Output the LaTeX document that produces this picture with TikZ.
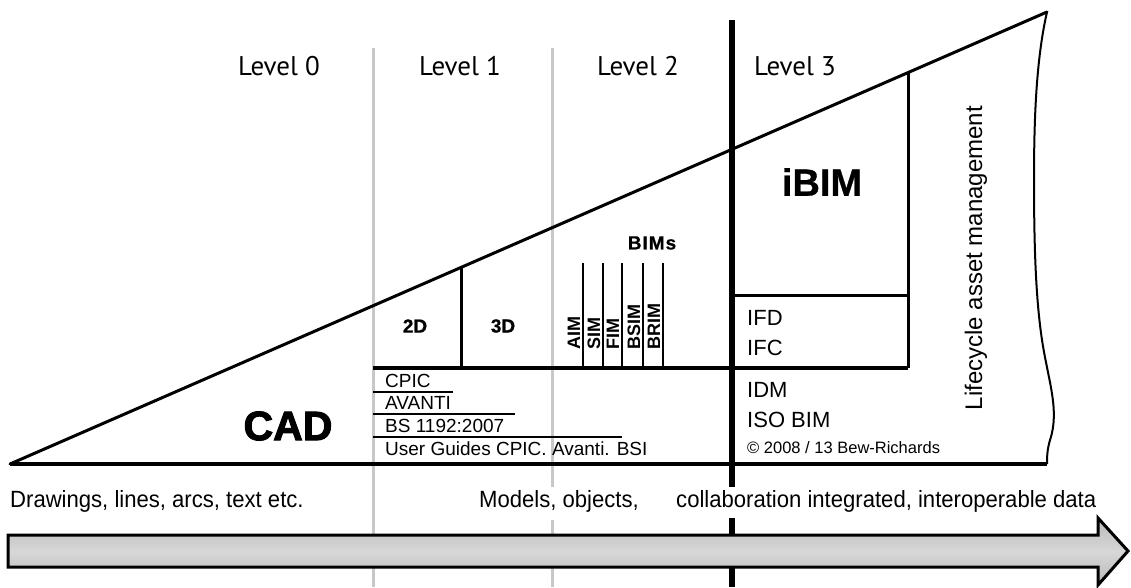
\documentclass[tikz,border=0pt]{standalone}
\usepackage{fontspec}
\setmainfont{Liberation Sans}
\newfontfamily\lvlfont{PT Sans}
\newfontfamily\heavyfont{Liberation Sans Bold}[FakeBold=2.5]
\newfontfamily\semiheavy{Liberation Sans Bold}[FakeBold=0.8]
\definecolor{lgray}{RGB}{200,200,200}
\definecolor{agray}{RGB}{185,185,185}
\definecolor{amid}{RGB}{215,215,215}
\tikzset{
  lvl/.style={font=\lvlfont\fontsize{27}{30}\selectfont, inner sep=0pt},
  bigbold/.style={font=\semiheavy\fontsize{#1}{#1}\selectfont, inner sep=0pt},
  std/.style={font=\fontsize{#1}{#1}\selectfont, inner sep=0pt, anchor=base west},
  rotlbl/.style={font=\bfseries\fontsize{18}{18}\selectfont, inner sep=0pt, rotate=90, anchor=base west},
  grayline/.style={draw=lgray, line width=3pt},
  heavy/.style={draw=black, line width=6pt},
  outline/.style={draw=black, line width=3pt},
  thin/.style={draw=black, line width=2pt},
}
\newcommand{\narrow}[1]{\scalebox{0.94}[1]{#1}}
\begin{document}
\begin{tikzpicture}[x=1pt,y=-1pt]
\useasboundingbox (0,0) rectangle (1131,587);
% gray level dividers
\draw[grayline] (373,48) -- (373,587);
\draw[grayline] (552,48) -- (552,487);
\draw[grayline] (552,520) -- (552,587);
% triangle
\coordinate (bl) at (10,464);
\coordinate (apex) at (1047,12);
\coordinate (br) at (1047,464);
\draw[outline, line cap=round] (bl) -- (apex);
\draw[draw=black, line width=2pt] (apex) .. controls (1036,60) and (1034,120) .. (1034,180)
  .. controls (1034,250) and (1036,300) .. (1042,340)
  .. controls (1048,380) and (1060,410) .. (1050,440)
  .. controls (1047,450) and (1047,458) .. (br);
\draw[draw=black, line width=4pt] (bl) -- (br);
% inner boxes
\coordinate (h1l) at (373,368);
\coordinate (h1r) at (908,368);
\coordinate (vtop) at (908,72.6);
\coordinate (h2l) at (732,295);
\coordinate (h2r) at (908,295);
\draw[draw=black, line width=3.5pt] (h1l) -- (h1r);
\draw[outline] (vtop) -- (h1r);
\draw[outline] (h2l) -- (h2r);
\coordinate (d23t) at (461,267.4);
\coordinate (d23b) at (461,368);
\draw[outline] (d23t) -- (d23b);
% BIMs lines
\foreach \x/\n in {583/a,603/b,622/c,643/d,663/e}{
  \coordinate (bt\n) at (\x,263);
  \coordinate (bb\n) at (\x,368);
  \draw[thin] (bt\n) -- (bb\n);
}
% underlines
\coordinate (u1l) at (373,392); \coordinate (u1r) at (453,392);
\coordinate (u2l) at (373,414); \coordinate (u2r) at (515,414);
\coordinate (u3l) at (373,437); \coordinate (u3r) at (622,437);
\draw[thin] (u1l) -- (u1r);
\draw[thin] (u2l) -- (u2r);
\draw[thin] (u3l) -- (u3r);
% heavy level 3 divider
\draw[heavy] (732,20) -- (732,487);
\draw[heavy] (732,518) -- (732,587);
% arrow
\path[draw=black, line width=3pt, line join=miter, top color=agray, bottom color=agray, middle color=amid]
  (8,535) -- (1098,535) -- (1098,518) -- (1128,551) -- (1098,585) -- (1098,567) -- (8,567) -- cycle;
% level labels
\node[lvl] (lv0) at (279,66) {Level 0};
\node[lvl] (lv1) at (460,66) {Level 1};
\node[lvl] (lv2) at (638,66) {Level 2};
\node[lvl] (lv3) at (795,66) {Level 3};
% big labels
\node[font=\heavyfont\fontsize{41}{41}\selectfont, inner sep=0pt] (cad) at (288,426) {CAD};
\node[bigbold=38] (ibim) at (822,182) {iBIM};
\node[bigbold=19] (d2) at (415,326) {2D};
\node[bigbold=19] (d3) at (503,326) {3D};
\node[bigbold=19] (bims) at (652,243) {B\kern1ptI\kern1ptM\kern1pts};
% rotated BIM labels
\node[rotlbl] (aim) at (580,350) {AIM};
\node[rotlbl] (sim) at (600,350) {SIM};
\node[rotlbl] (fim) at (619,350) {FIM};
\node[rotlbl] (bsim) at (640,350) {BSIM};
\node[rotlbl] (brim) at (660,350) {BRIM};
% level 1 references
\node[std=19] (cpic) at (385,387) {CPIC};
\node[std=19] (avanti) at (385,409) {AVANTI};
\node[std=19] (bs) at (385,432) {BS 1192:2007};
\node[std=19] (ug) at (385,455) {User Guides CPIC. Avanti. BSI};
% level 3 references
\node[std=22] (ifd) at (747,325) {IFD};
\node[std=22] (ifc) at (747,355) {IFC};
\node[std=22] (idm) at (747,397) {IDM};
\node[std=22] (iso) at (747,427) {ISO BIM};
\node[std=16.5] (copy) at (747,453) {\textcopyright\ 2008 / 13 Bew-Richards};
% lifecycle
\node[font=\fontsize{24}{24}\selectfont, inner sep=0pt, rotate=90] (life) at (976,258) {Lifecycle asset management};
% bottom texts
\node[std=23.5] (t0) at (10,507) {\narrow{Drawings, lines, arcs, text etc.}};
\node[std=23.5] (t2) at (479,507) {\narrow{Models, objects,}};
\node[std=23.5] (t3) at (676,507) {\narrow{collaboration integrated, interoperable data}};
\end{tikzpicture}
\end{document}
